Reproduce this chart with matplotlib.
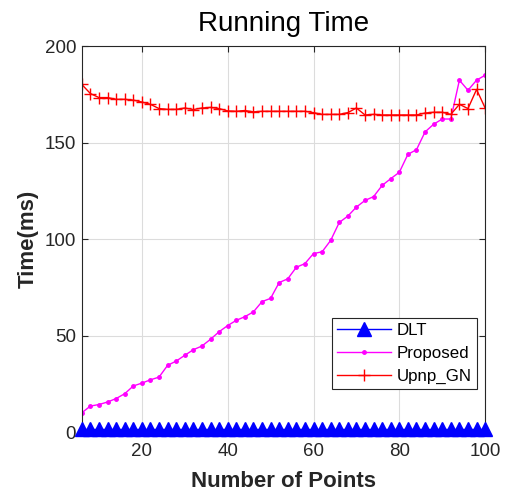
import numpy as np
import matplotlib
matplotlib.use('Agg')
import matplotlib.pyplot as plt

plt.rcParams['font.family'] = ['Liberation Sans', 'DejaVu Sans']

# number of points (6:2:100)
n_points = list(range(6, 101, 2))

# running time (ms)
dlt = [1.5] * len(n_points)
proposed = [10, 13.5, 14.3, 15.6, 17.4, 19.9, 23.9, 25.4, 27.1, 28.5,
             34.6, 36.8, 39.8, 42.7, 44.6, 48.1, 52.0, 55.2, 57.9, 59.8,
             62.3, 67.6, 69.3, 77.5, 79.4, 85.4, 87.3, 92.5, 93.4, 99.3,
             108.6, 111.9, 116.6, 120.0, 122.0, 127.8, 131.3, 134.6, 143.9, 146.3,
             155.5, 159.5, 162.2, 162.2, 182.3, 177.1, 182.3, 184.9]
upnp_gn = [180.1, 175.4, 173.3, 173.3, 172.4, 172.4, 172.0, 171.0, 169.8, 167.6,
           167.2, 167.2, 167.9, 167.1, 167.9, 168.2, 167.6, 166.4, 166.2, 166.6,
           165.9, 166.2, 166.2, 166.2, 166.2, 166.2, 166.2, 165.5, 164.6, 164.6,
           164.6, 165.5, 167.9, 164.3, 164.6, 164.3, 164.3, 164.3, 164.3, 164.3,
           165.3, 165.7, 165.7, 164.6, 169.8, 167.6, 177.5, 167.9]

fig = plt.figure(figsize=(5.08, 4.95), dpi=100)
ax = fig.add_axes([0.161, 0.127, 0.794, 0.780])

ax.plot(n_points, dlt, color='blue', marker='^', markersize=10, linewidth=1,
        label='DLT', clip_on=False, zorder=3)
ax.plot(n_points, proposed, color='magenta', marker='.', markersize=5, linewidth=1,
        label='Proposed')
ax.plot(n_points, upnp_gn, color='red', marker='+', markersize=9, linewidth=1,
        markeredgewidth=1, label='Upnp_GN')

ax.set_xlim(6, 100)
ax.set_ylim(0, 200)
ax.set_xticks([20, 40, 60, 80, 100])
ax.set_yticks([0, 50, 100, 150, 200])
ax.grid(True, color='#dcdcdc', linewidth=0.8)
ax.set_axisbelow(True)
ax.tick_params(direction='in', top=True, right=True, labelsize=13.5,
               colors='#262626', length=4)
ax.tick_params(axis='x', pad=8)
ax.tick_params(axis='y', pad=4)
for s in ax.spines.values():
    s.set_color('#262626')
    s.set_linewidth(0.8)

ax.set_title('Running Time', fontsize=20, color='black', pad=11)
ax.set_xlabel('Number of Points', fontsize=16, fontweight='bold', color='#262626',
              labelpad=8)
ax.set_ylabel('Time(ms)', fontsize=16, fontweight='bold', color='#262626',
              labelpad=4)

leg = ax.legend(loc='lower right', bbox_to_anchor=(0.98, 0.111), fontsize=12.2,
                fancybox=False, edgecolor='#262626', framealpha=1,
                handlelength=3.2, borderpad=0.3, labelspacing=0.47,
                handletextpad=0.35, borderaxespad=0)
leg.get_frame().set_linewidth(0.8)

fig.savefig('out.png', dpi=100)
